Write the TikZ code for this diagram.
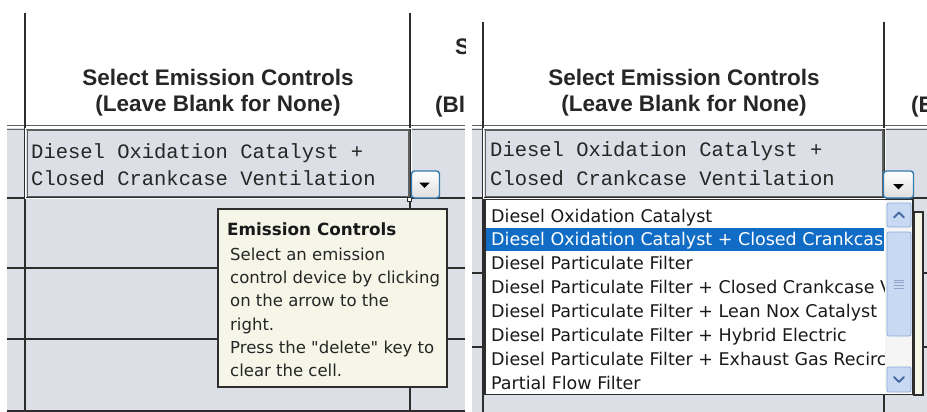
\documentclass[tikz,border=0pt]{standalone}
\usepackage{fontspec}
\setmainfont{Liberation Sans}
\newfontfamily\monofam{Liberation Mono}
\newfontfamily\tipfam{DejaVu Sans}
\definecolor{cellgray}{RGB}{220,223,229}
\definecolor{tipfill}{RGB}{245,245,232}
\definecolor{selblue}{RGB}{16,108,196}
\definecolor{btnblue}{RGB}{52,122,176}
\definecolor{scrollfill}{RGB}{200,218,243}
\definecolor{scrolledge}{RGB}{140,172,222}
\definecolor{chevron}{RGB}{70,105,165}
\definecolor{gridc}{RGB}{45,45,45}
\definecolor{cellbd}{RGB}{95,95,95}
\tikzset{
  rowline/.style={draw=gridc, line width=2pt},
  colline/.style={draw=gridc, line width=1.2pt},
  hdrline/.style={draw=cellbd, line width=1.1pt},
  hdr/.style={font=\bfseries\fontsize{22.5}{25}\selectfont, text=black!85, anchor=base, inner sep=0pt},
  hdrw/.style={font=\bfseries\fontsize{22.5}{25}\selectfont, text=black!85, anchor=base west, inner sep=0pt},
  mono/.style={font=\monofam\fontsize{20.5}{24}\selectfont, text=black!85, anchor=base west, inner sep=0pt},
  tiptitle/.style={font=\tipfam\bfseries\fontsize{16.8}{20}\selectfont, text=black!90, anchor=base west, inner sep=0pt},
  tiptext/.style={font=\tipfam\fontsize{16.5}{20}\selectfont, text=black!85, anchor=base west, inner sep=0pt},
  listtext/.style={font=\tipfam\fontsize{17.5}{20}\selectfont, text=black!90, anchor=base west, inner sep=0pt},
  seltext/.style={listtext, text=white},
  ddbutton/.style={draw=btnblue, line width=1.4pt, rounded corners=3pt, top color=white, bottom color=black!13},
  tipbox/.style={draw=gridc, line width=1.2pt, fill=tipfill},
  listbox/.style={draw=gridc, line width=1.2pt, fill=white},
  scrollbtn/.style={draw=scrolledge, line width=0.8pt, rounded corners=2pt, fill=scrollfill},
  chev/.style={draw=chevron, line width=2pt, line cap=round, line join=round},
}
\begin{document}
\begin{tikzpicture}[x=1pt,y=-1pt]
\useasboundingbox (0,0) rectangle (927,412);
\fill[white] (0,0) rectangle (927,412);

% ================= LEFT PANEL =================
\fill[cellgray] (7,128) rectangle (465,412);
\draw[hdrline] (7,125.5) -- (465,125.5);
\draw[hdrline] (7,129.2) -- (465,129.2);
\draw[colline] (25,13) -- (25,412);
\draw[colline] (410,13) -- (410,412);
\draw[rowline] (7,198) -- (465,198);
\draw[rowline] (7,268) -- (465,268);
\draw[rowline] (7,339) -- (465,339);
\draw[rowline] (7,410.5) -- (465,410.5);

\node[hdr] (lh1) at (218,86) {Select Emission Controls};
\node[hdr] (lh2) at (218,111) {(Leave Blank for None)};
\begin{scope}
  \clip (411,0) rectangle (465,125);
  \node[hdrw] (ls) at (455,55) {S};
  \node[hdrw] (lbl) at (435,112) {(Bl};
\end{scope}

% selected cell
\draw[white, line width=1pt] (25.5,128.3) rectangle (411,198.7);
\draw[cellbd, line width=1.1pt, fill=cellgray] (27.5,130.8) rectangle (409,196.5);
\node[mono] (lc1) at (31,158) {Diesel Oxidation Catalyst +};
\node[mono] (lc2) at (31,185) {Closed Crankcase Ventilation};
\draw[gridc, fill=white, line width=0.8pt] (407.5,197) rectangle (411.5,201);
\node[ddbutton, minimum width=28pt, minimum height=27pt, inner sep=0pt] (lbtn) at (425.5,184.5) {};
\fill[black] (419,182.5) -- (430,182.5) -- (424.5,187.8) -- cycle;

% tooltip
\node[tipbox, minimum width=229pt, minimum height=178pt, inner sep=0pt] (tip) at (332.5,298) {};
\node[tiptitle] (tt) at (227,235) {Emission Controls};
\node[tiptext] (t1) at (230,260) {Select an emission};
\node[tiptext] (t2) at (230,283.3) {control device by clicking};
\node[tiptext] (t3) at (230,306.6) {on the arrow to the};
\node[tiptext] (t4) at (230,330) {right.};
\node[tiptext] (t5) at (230,353.3) {Press the "delete" key to};
\node[tiptext] (t6) at (230,376.6) {clear the cell.};

% ================= RIGHT PANEL =================
\fill[cellgray] (472,128) rectangle (927,412);
\draw[hdrline] (472,125.5) -- (927,125.5);
\draw[hdrline] (472,129.2) -- (927,129.2);
\draw[colline] (483,22) -- (483,412);
\draw[colline] (884,22) -- (884,412);
\draw[rowline] (472,198) -- (927,198);
\draw[rowline] (472,273) -- (927,273);
\draw[rowline] (472,347) -- (927,347);

\node[hdr] (rh1) at (684,85) {Select Emission Controls};
\node[hdr] (rh2) at (684,111) {(Leave Blank for None)};
\begin{scope}
  \clip (885,0) rectangle (927,125);
  \node[hdrw] (re) at (911,112) {(E};
\end{scope}

\draw[white, line width=1pt] (483.5,128.3) rectangle (885,198.7);
\draw[cellbd, line width=1.1pt, fill=cellgray] (485.5,130.8) rectangle (883,196.5);
\node[mono] (rc1) at (490,157) {Diesel Oxidation Catalyst +};
\node[mono] (rc2) at (490,185) {Closed Crankcase Ventilation};
\node[ddbutton, minimum width=30pt, minimum height=27pt, inner sep=0pt] (rbtn) at (898.5,184.5) {};
\fill[black] (893,184) -- (904,184) -- (898.5,189.3) -- cycle;

% tooltip behind the list
\node[tipbox, minimum width=9pt, minimum height=183pt, inner sep=0pt] (tip2) at (918.5,303.5) {};

% drop-down list
\node[listbox, minimum width=428pt, minimum height=195pt, inner sep=0pt] (list) at (699,296.8) {};
\fill[selblue] (486,227.5) rectangle (884,250.5);
\begin{scope}
  \clip (486,200) rectangle (884,393);
  \node[listtext] (i1) at (491,222) {Diesel Oxidation Catalyst};
  \node[seltext]  (i2) at (491,245.5) {Diesel Oxidation Catalyst + Closed Crankcase};
  \node[listtext] (i3) at (491,269.5) {Diesel Particulate Filter};
  \node[listtext] (i4) at (491,293.5) {Diesel Particulate Filter + Closed Crankcase V};
  \node[listtext] (i5) at (491,317.5) {Diesel Particulate Filter + Lean Nox Catalyst};
  \node[listtext] (i6) at (491,341.5) {Diesel Particulate Filter + Hybrid Electric};
  \node[listtext] (i7) at (491,365.5) {Diesel Particulate Filter + Exhaust Gas Recirc};
  \node[listtext] (i8) at (491,389.5) {Partial Flow Filter};
\end{scope}

% scrollbar
\fill[black!4] (885,200) rectangle (912.3,393.3);
\node[scrollbtn, minimum width=24pt, minimum height=24pt, inner sep=0pt] (up) at (899,215) {};
\node[scrollbtn, minimum width=24pt, minimum height=104pt, inner sep=0pt] (thumb) at (899,284) {};
\node[scrollbtn, minimum width=24pt, minimum height=25pt, inner sep=0pt] (down) at (899,379.5) {};
\draw[chev] ([shift={(-5,2.5)}]up.center) -- ([shift={(0,-2.5)}]up.center) -- ([shift={(5,2.5)}]up.center);
\draw[chev] ([shift={(-5,-2.5)}]down.center) -- ([shift={(0,2.5)}]down.center) -- ([shift={(5,-2.5)}]down.center);
\foreach \dy in {-4,-1.3,1.3,4} {
  \draw[chevron!60, line width=0.7pt] ([shift={(-5,\dy)}]thumb.center) -- ([shift={(5,\dy)}]thumb.center);
}
\end{tikzpicture}
\end{document}
